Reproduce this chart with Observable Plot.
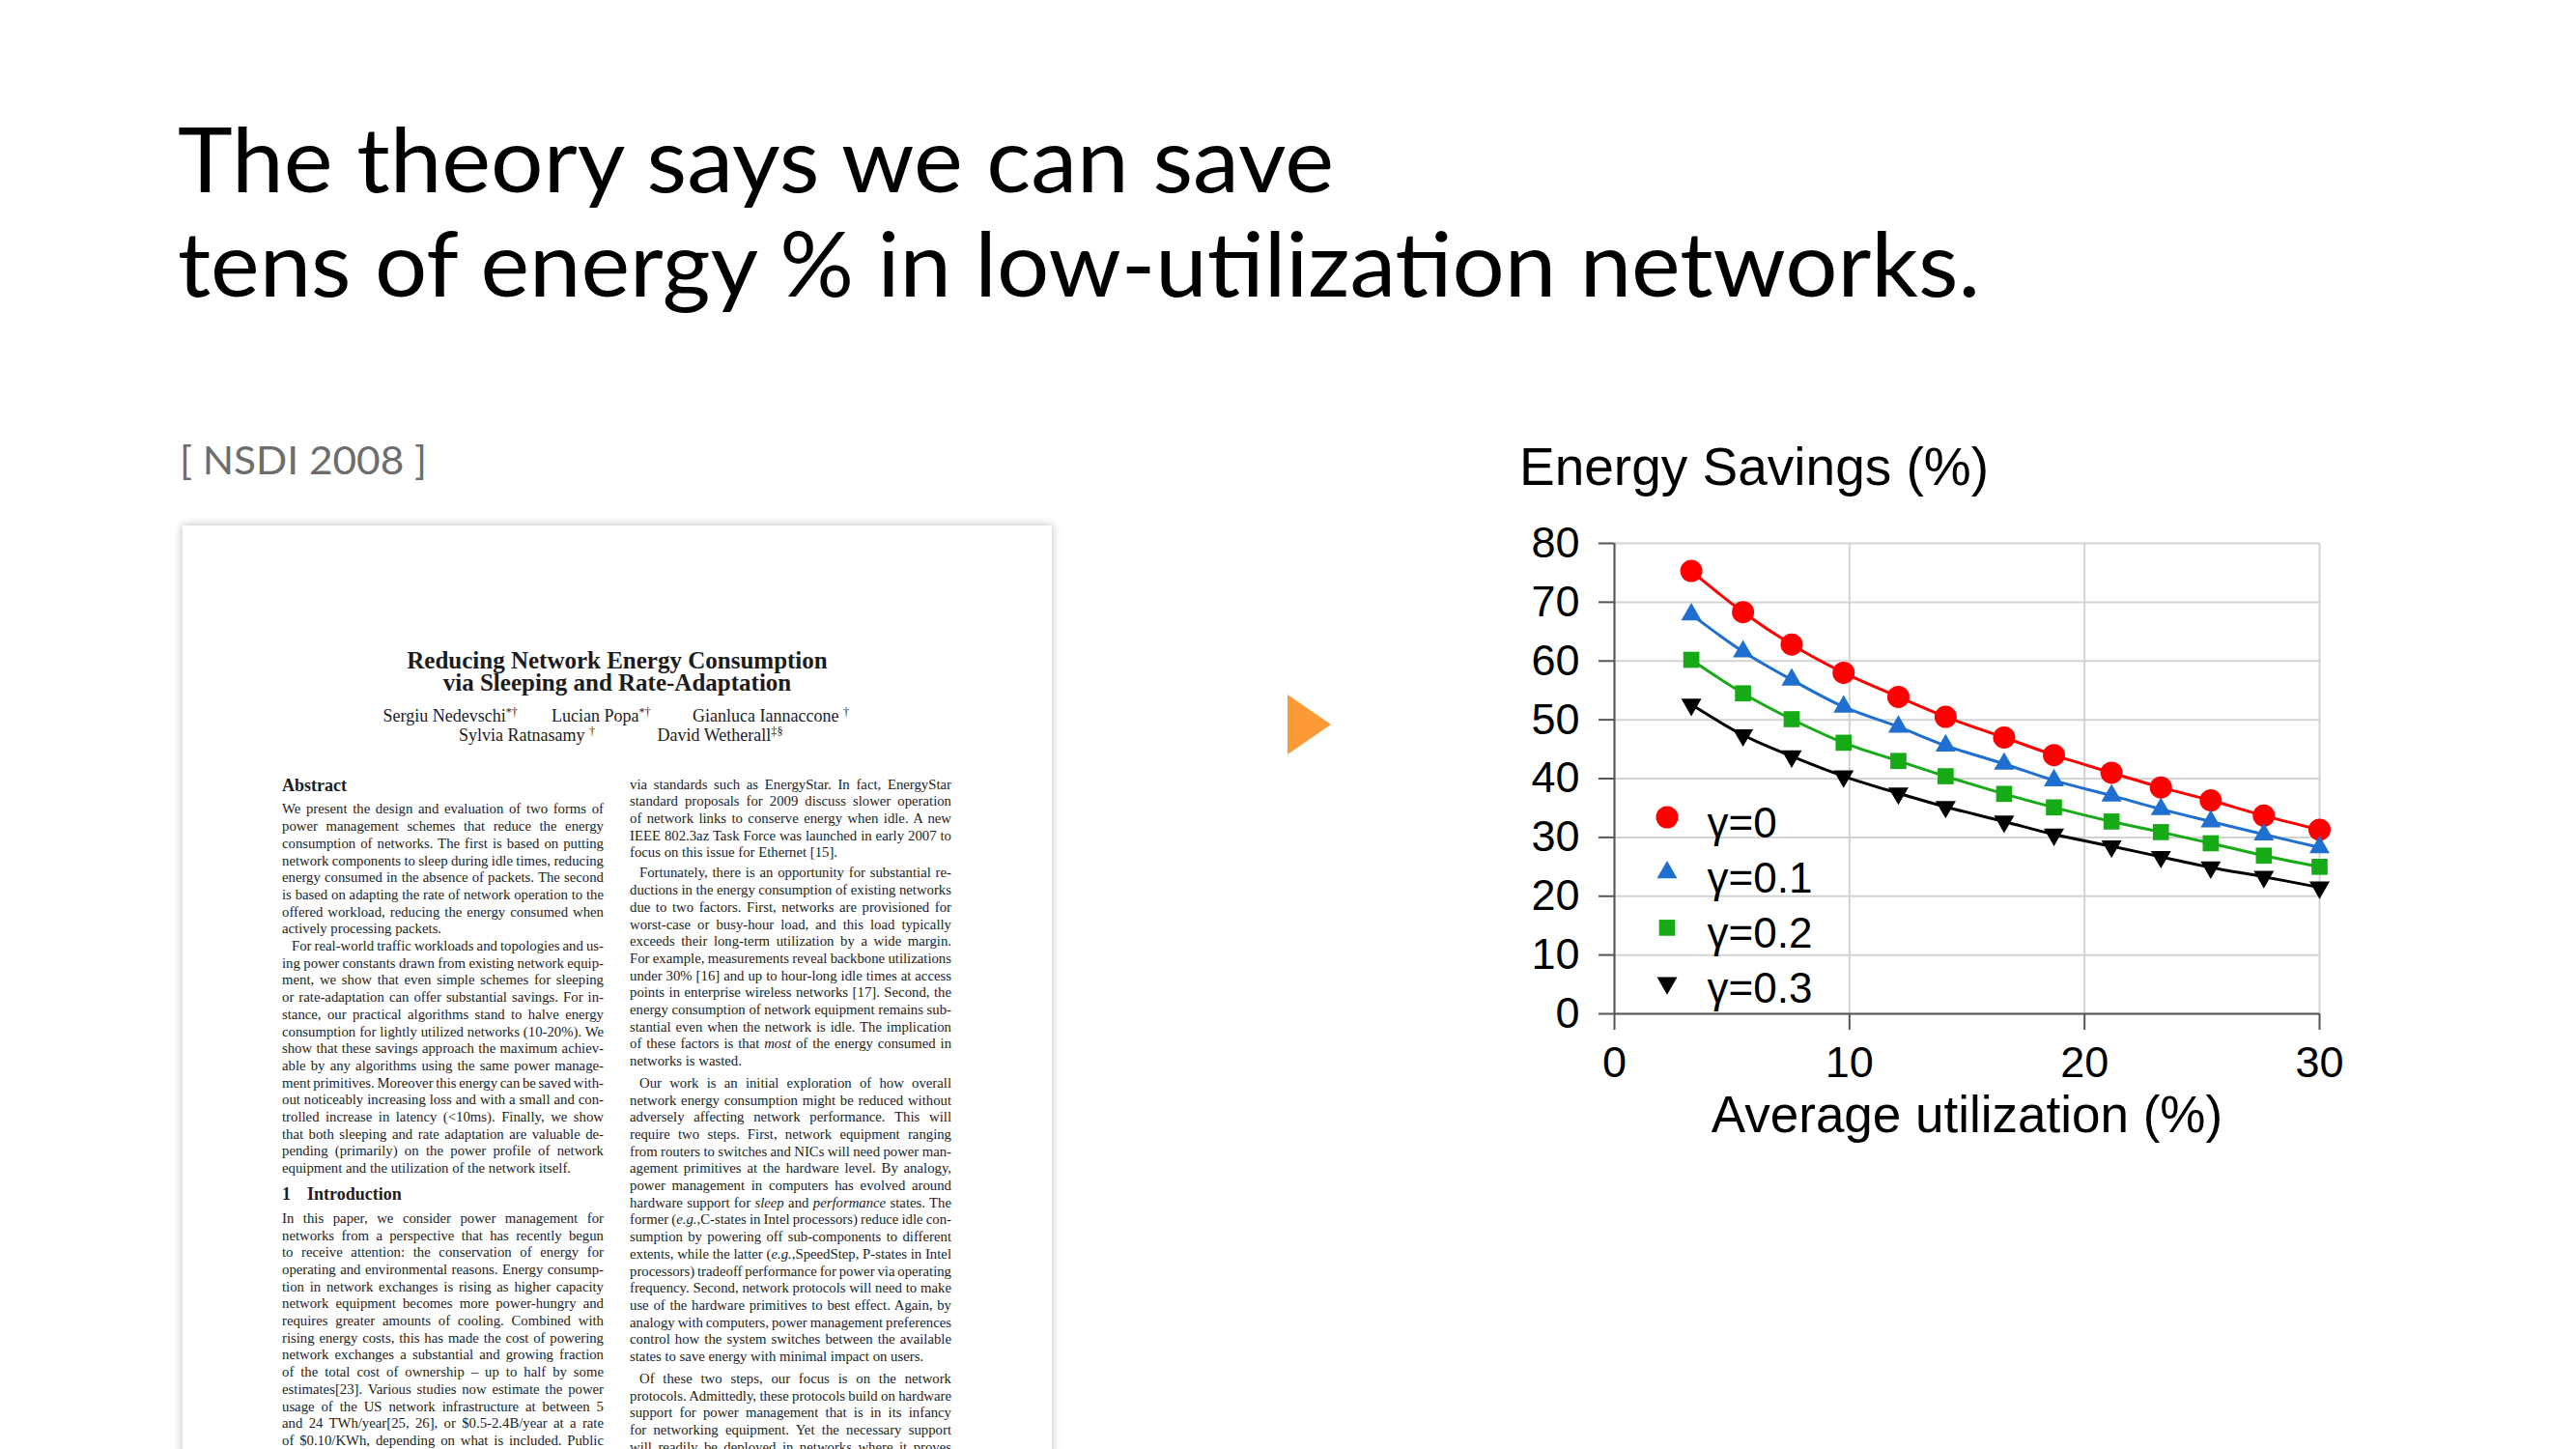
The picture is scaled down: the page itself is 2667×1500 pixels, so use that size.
<!DOCTYPE html>
<html>
<head>
<meta charset="utf-8">
<script src="https://cdn.jsdelivr.net/npm/d3@7"></script>
<script src="https://cdn.jsdelivr.net/npm/@observablehq/plot@0.6"></script>
<style>
html, body { margin: 0; padding: 0; background: #fff; }
body { width: 2667px; height: 1500px; position: relative; overflow: hidden; }
#slide { position: absolute; left: 0; top: 0; }
#paper { position: absolute; left: 189px; top: 544px; width: 900px; height: 1010px; background: #fff;
  box-shadow: 0 0 9px rgba(0,0,0,0.28); font-family: "Liberation Serif", "Times New Roman", serif; color: #1c1c1c; }
.ln { position: absolute; white-space: nowrap; font-size: 14.75px; line-height: 17.7px; }
.pt { position: absolute; white-space: nowrap; }
.sup { position: relative; top: -0.45em; font-size: 0.68em; }
#chart { position: absolute; left: 1560px; top: 540px; }
#chartTitle { position: absolute; left: 1573px; font-family: "Liberation Sans", Arial, sans-serif; font-size: 55px; line-height: 55px; color: #000; white-space: nowrap; }
#legend { position: absolute; left: 1700px; top: 820px; }
</style>
</head>
<body>
<svg id="slide" width="2667" height="1500" xmlns="http://www.w3.org/2000/svg">
  <text x="184" y="199" font-family="Lato, 'Open Sans', sans-serif" font-size="94" fill="#000" textLength="1197" lengthAdjust="spacingAndGlyphs">The theory says we can save</text>
  <text x="184" y="307" font-family="Lato, 'Open Sans', sans-serif" font-size="94" fill="#000" textLength="1866" lengthAdjust="spacingAndGlyphs">tens of energy % in low-utilization networks.</text>
  <text x="186" y="491" font-family="Lato, 'Open Sans', sans-serif" font-size="41" fill="#6d6d6d" textLength="256" lengthAdjust="spacingAndGlyphs">[ NSDI 2008 ]</text>
  <polygon points="1333,719 1378,750 1333,781" fill="#fb9a37"/>
</svg>
<div id="paper"></div>
<div id="chartTitle"></div>
<div id="chart"></div>
<svg id="legend" width="220" height="240"></svg>
<script>
// ---------------- chart data ----------------
const utilization = [3.27, 5.47, 7.54, 9.75, 12.08, 14.09, 16.58, 18.70, 21.15, 23.25, 25.37, 27.63, 30.0];
const savingsGamma0  = [75.3, 68.3, 62.8, 58.0, 53.9, 50.5, 47.0, 44.0, 41.0, 38.5, 36.3, 33.7, 31.3];
const savingsGamma01 = [67.9, 61.6, 56.8, 52.2, 48.8, 45.6, 42.5, 39.7, 37.1, 34.8, 32.7, 30.5, 28.3];
const savingsGamma02 = [60.2, 54.5, 50.1, 46.1, 43.0, 40.4, 37.4, 35.1, 32.7, 30.9, 29.0, 26.9, 25.0];
const savingsGamma03 = [52.6, 47.4, 43.8, 40.4, 37.5, 35.2, 32.7, 30.5, 28.5, 26.7, 24.9, 23.3, 21.5];
const seriesNames = ["γ=0", "γ=0.1", "γ=0.2", "γ=0.3"];
const xTicks = [0, 10, 20, 30];
const yTicks = [0, 10, 20, 30, 40, 50, 60, 70, 80];
const xDomain = [0, 30];
const yDomain = [0, 80];
const chartTitle = "Energy Savings (%)";
const xAxisLabel = ["Average utilization (%)"];

// ---------------- styles ----------------
const chartFont = "Liberation Sans, Arial, sans-serif";
const seriesColors = ["#ff0000", "#1f6fd0", "#16ab16", "#000000"];
const triangleDown = {
  draw(context, size) {
    const s = Math.sqrt(4 * size / Math.sqrt(3));
    const h = s * Math.sqrt(3) / 2;
    context.moveTo(0, 2 * h / 3);
    context.lineTo(-s / 2, -h / 3);
    context.lineTo(s / 2, -h / 3);
    context.closePath();
  }
};
const seriesSymbols = ["circle", "triangle", "square", triangleDown];
const d3Symbols = [d3.symbolCircle, d3.symbolTriangle, d3.symbolSquare, triangleDown];
const seriesR = [11.5, 7.8, 9.4, 7.8];

const seriesValues = [savingsGamma0, savingsGamma01, savingsGamma02, savingsGamma03];
const rows = seriesNames.flatMap((s, i) => utilization.map((x, j) => ({series: s, x, y: seriesValues[i][j]})));

const gridColor = "#d3d3d3";
const axisColor = "#555";

const chart = Plot.plot({
  width: 881, height: 660,
  marginTop: 22, marginRight: 40, marginBottom: 151, marginLeft: 111,
  x: {domain: xDomain},
  y: {domain: yDomain},
  style: {fontFamily: chartFont, fontSize: "45px", color: "#000", background: "transparent", overflow: "visible"},
  marks: [
    Plot.gridY(yTicks, {stroke: gridColor, strokeOpacity: 1, strokeWidth: 2}),
    Plot.gridX(xTicks, {stroke: gridColor, strokeOpacity: 1, strokeWidth: 2}),
    Plot.axisY(yTicks, {tickSize: 16, tickPadding: 20, fontSize: 45, label: null, stroke: axisColor, strokeWidth: 2, fill: "#000"}),
    Plot.axisX(xTicks, {tickSize: 17, tickPadding: 17, fontSize: 45, label: null, stroke: axisColor, strokeWidth: 2, fill: "#000"}),
    Plot.ruleX([xDomain[0]], {stroke: axisColor, strokeWidth: 2}),
    Plot.ruleY([yDomain[0]], {stroke: axisColor, strokeWidth: 2}),
    ...seriesNames.map((s, i) => Plot.line(rows.filter(d => d.series === s), {
      x: "x", y: "y", stroke: seriesColors[i], strokeWidth: 3, curve: "catmull-rom"
    })),
    ...seriesNames.map((s, i) => Plot.dot(rows.filter(d => d.series === s), {
      x: "x", y: "y", fill: seriesColors[i], stroke: "none", symbol: seriesSymbols[i], r: seriesR[i]
    })),
    Plot.text(xAxisLabel, {text: d => d, frameAnchor: "bottom", lineAnchor: "bottom", dy: 122, fontSize: 53, fill: "#000"})
  ]
});
document.getElementById("chart").appendChild(chart);

// chart title (baseline at 503)
const ct = document.getElementById("chartTitle");
ct.textContent = chartTitle;
ct.style.top = (503 - 0.8465 * 55) + "px";

// legend
const leg = d3.select("#legend");
seriesNames.forEach((s, i) => {
  const cy = 26 + i * 57.2;
  leg.append("path")
    .attr("transform", `translate(26,${cy})`)
    .attr("d", d3.symbol(d3Symbols[i], Math.PI * seriesR[i] * seriesR[i])())
    .attr("fill", seriesColors[i]);
  leg.append("text")
    .attr("x", 67.6).attr("y", cy + 20.6)
    .attr("font-family", chartFont).attr("font-size", 44)
    .attr("fill", "#000")
    .text(s);
});

// ---------------- paper thumbnail (text of the cited paper) ----------------
const paperTitle = ["Reducing Network Energy Consumption", "via Sleeping and Rate-Adaptation"];
const paperAuthors = [
  {html: 'Sergiu Nedevschi<span class="sup">*†</span>', x: 207.5, b: 203},
  {html: 'Lucian Popa<span class="sup">*†</span>', x: 382, b: 203},
  {html: 'Gianluca Iannaccone <span class="sup">†</span>', x: 528, b: 203},
  {html: 'Sylvia Ratnasamy <span class="sup">†</span>', x: 286, b: 223},
  {html: 'David Wetherall<span class="sup">‡§</span>', x: 491.6, b: 223}
];
const abstractP1 = [
  "We present the design and evaluation of two forms of",
  "power management schemes that reduce the energy",
  "consumption of networks. The first is based on putting",
  "network components to sleep during idle times, reducing",
  "energy consumed in the absence of packets. The second",
  "is based on adapting the rate of network operation to the",
  "offered workload, reducing the energy consumed when",
  "actively processing packets."
];
const abstractP2 = [
  "For real-world traffic workloads and topologies and us-",
  "ing power constants drawn from existing network equip-",
  "ment, we show that even simple schemes for sleeping",
  "or rate-adaptation can offer substantial savings. For in-",
  "stance, our practical algorithms stand to halve energy",
  "consumption for lightly utilized networks (10-20%). We",
  "show that these savings approach the maximum achiev-",
  "able by any algorithms using the same power manage-",
  "ment primitives. Moreover this energy can be saved with-",
  "out noticeably increasing loss and with a small and con-",
  "trolled increase in latency (&lt;10ms). Finally, we show",
  "that both sleeping and rate adaptation are valuable de-",
  "pending (primarily) on the power profile of network",
  "equipment and the utilization of the network itself."
];
const introP1 = [
  "In this paper, we consider power management for",
  "networks from a perspective that has recently begun",
  "to receive attention: the conservation of energy for",
  "operating and environmental reasons. Energy consump-",
  "tion in network exchanges is rising as higher capacity",
  "network equipment becomes more power-hungry and",
  "requires greater amounts of cooling. Combined with",
  "rising energy costs, this has made the cost of powering",
  "network exchanges a substantial and growing fraction",
  "of the total cost of ownership – up to half by some",
  "estimates[23]. Various studies now estimate the power",
  "usage of the US network infrastructure at between 5",
  "and 24 TWh/year[25, 26], or $0.5-2.4B/year at a rate",
  "of $0.10/KWh, depending on what is included. Public"
];
const rightP1 = [
  "via standards such as EnergyStar. In fact, EnergyStar",
  "standard proposals for 2009 discuss slower operation",
  "of network links to conserve energy when idle. A new",
  "IEEE 802.3az Task Force was launched in early 2007 to",
  "focus on this issue for Ethernet [15]."
];
const rightP2 = [
  "Fortunately, there is an opportunity for substantial re-",
  "ductions in the energy consumption of existing networks",
  "due to two factors. First, networks are provisioned for",
  "worst-case or busy-hour load, and this load typically",
  "exceeds their long-term utilization by a wide margin.",
  "For example, measurements reveal backbone utilizations",
  "under 30% [16] and up to hour-long idle times at access",
  "points in enterprise wireless networks [17]. Second, the",
  "energy consumption of network equipment remains sub-",
  "stantial even when the network is idle. The implication",
  "of these factors is that <i>most</i> of the energy consumed in",
  "networks is wasted."
];
const rightP3 = [
  "Our work is an initial exploration of how overall",
  "network energy consumption might be reduced without",
  "adversely affecting network performance. This will",
  "require two steps. First, network equipment ranging",
  "from routers to switches and NICs will need power man-",
  "agement primitives at the hardware level. By analogy,",
  "power management in computers has evolved around",
  "hardware support for <i>sleep</i> and <i>performance</i> states. The",
  "former (<i>e.g.</i>,C-states in Intel processors) reduce idle con-",
  "sumption by powering off sub-components to different",
  "extents, while the latter (<i>e.g.</i>,SpeedStep, P-states in Intel",
  "processors) tradeoff performance for power via operating",
  "frequency. Second, network protocols will need to make",
  "use of the hardware primitives to best effect. Again, by",
  "analogy with computers, power management preferences",
  "control how the system switches between the available",
  "states to save energy with minimal impact on users."
];
const rightP4 = [
  "Of these two steps, our focus is on the network",
  "protocols. Admittedly, these protocols build on hardware",
  "support for power management that is in its infancy",
  "for networking equipment. Yet the necessary support",
  "will readily be deployed in networks where it proves"
];

const paper = document.getElementById("paper");
const colW = 333, leftX = 103, rightX = 463, lh = 17.7;

function placeText(html, x, baseline, size, extra) {
  const d = document.createElement("div");
  d.className = "pt";
  d.style.left = x + "px";
  d.style.fontSize = size + "px";
  d.style.lineHeight = size + "px";
  d.style.top = (baseline - 0.8375 * size) + "px";
  d.innerHTML = html;
  if (extra) Object.assign(d.style, extra);
  paper.appendChild(d);
  return d;
}
function addBlock(lines, x, firstBaseline, indent, lastIsFull) {
  lines.forEach((html, k) => {
    const d = document.createElement("div");
    d.className = "ln";
    const ind = (k === 0 ? indent : 0);
    d.style.left = (x + ind) + "px";
    d.style.top = (firstBaseline + k * lh - 13.83) + "px";
    d.innerHTML = html;
    paper.appendChild(d);
    const isLast = k === lines.length - 1 && !lastIsFull;
    if (!isLast) {
      const w = d.getBoundingClientRect().width;
      const n = (d.textContent.match(/ /g) || []).length;
      if (n) d.style.wordSpacing = ((colW - ind - w) / n) + "px";
    }
  });
}

paperTitle.forEach((t, i) => placeText(t, 0, [148, 171][i], 25, {width: "900px", textAlign: "center", fontWeight: "bold"}));
paperAuthors.forEach(a => placeText(a.html, a.x, a.b, 18));
placeText("Abstract", leftX, 275, 18, {fontWeight: "bold"});
addBlock(abstractP1, leftX, 299.3, 0, false);
addBlock(abstractP2, leftX, 299.3 + 8 * lh, 10, false);
placeText("1", leftX, 697.7, 18, {fontWeight: "bold"});
placeText("Introduction", 129, 697.7, 18, {fontWeight: "bold"});
addBlock(introP1, leftX, 722.7, 0, true);
addBlock(rightP1, rightX, 273.5, 0, false);
addBlock(rightP2, rightX, 365.3, 10, false);
addBlock(rightP3, rightX, 582.7, 10, false);
addBlock(rightP4, rightX, 888.7, 10, true);
</script>
</body>
</html>
